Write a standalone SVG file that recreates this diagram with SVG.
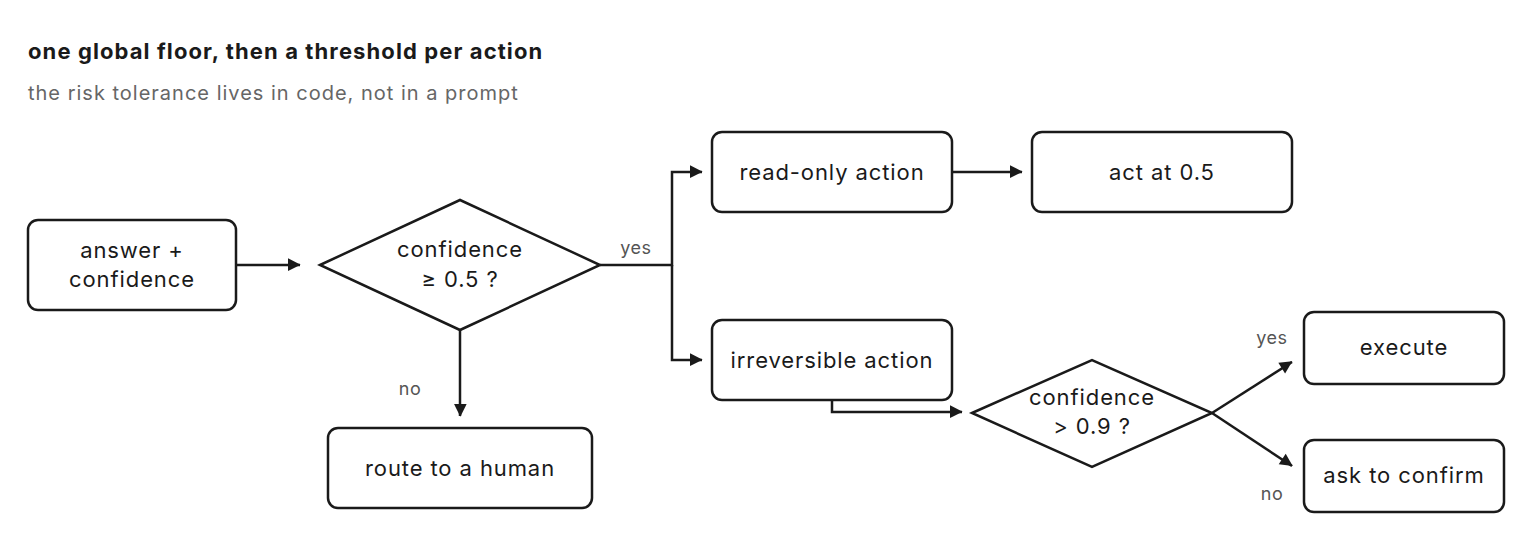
<svg xmlns="http://www.w3.org/2000/svg" width="1520" height="560" viewBox="0 0 1520 560">
<style>
.n{fill:#fff;stroke:#1a1a1a;stroke-width:2.5}
.t{font-family:Inter,"Liberation Sans",sans-serif;font-size:22px;letter-spacing:0.9px;fill:#1a1a1a;text-anchor:middle}
.l{font-family:Inter,"Liberation Sans",sans-serif;font-size:18px;letter-spacing:0.5px;fill:#555;text-anchor:middle}
.c{fill:none;stroke:#1a1a1a;stroke-width:2.5}
</style>
<defs><marker id="a" viewBox="0 0 10 10" refX="9" refY="5" markerWidth="7" markerHeight="7" markerUnits="userSpaceOnUse" orient="auto" style="overflow:visible"><path d="M0,0L10,5L0,10z" fill="#1a1a1a" transform="scale(1.8) translate(-4.5,-2.5)"/></marker></defs>
<rect width="1520" height="560" fill="#fff"/>
<text x="28" y="59" font-family="Inter,'Liberation Sans',sans-serif" font-size="22" letter-spacing="1.1" font-weight="bold" fill="#1a1a1a">one global floor, then a threshold per action</text>
<text x="28" y="100" font-family="Inter,'Liberation Sans',sans-serif" font-size="20" letter-spacing="1" fill="#666">the risk tolerance lives in code, not in a prompt</text>
<g id="answer"><rect class="n" x="28" y="220" width="208" height="90" rx="10"/><text class="t" x="132" y="258">answer +</text><text class="t" x="132" y="287">confidence</text></g>
<g id="d1"><polygon class="n" points="320,265 460,200 600,265 460,330"/><text class="t" x="460" y="257">confidence</text><text class="t" x="460" y="287">≥ 0.5 ?</text></g>
<g id="readonly"><rect class="n" x="712" y="132" width="240" height="80" rx="10"/><text class="t" x="832" y="180">read-only action</text></g>
<g id="act"><rect class="n" x="1032" y="132" width="260" height="80" rx="10"/><text class="t" x="1162" y="180">act at 0.5</text></g>
<g id="irrev"><rect class="n" x="712" y="320" width="240" height="80" rx="10"/><text class="t" x="832" y="368">irreversible action</text></g>
<g id="human"><rect class="n" x="328" y="428" width="264" height="80" rx="10"/><text class="t" x="460" y="476">route to a human</text></g>
<g id="d2"><polygon class="n" points="972,413 1092,360 1212,413 1092,467"/><text class="t" x="1092" y="405">confidence</text><text class="t" x="1092" y="434">&gt; 0.9 ?</text></g>
<g id="execute"><rect class="n" x="1304" y="312" width="200" height="72" rx="10"/><text class="t" x="1404" y="355">execute</text></g>
<g id="ask"><rect class="n" x="1304" y="440" width="200" height="72" rx="10"/><text class="t" x="1404" y="483">ask to confirm</text></g>
<g id="connectors">
<path class="c" d="M236,265H300" marker-end="url(#a)"/>
<path class="c" d="M600,265H672V172H702" marker-end="url(#a)"/>
<path class="c" d="M672,265V360H702" marker-end="url(#a)"/>
<path class="c" d="M952,172H1022" marker-end="url(#a)"/>
<path class="c" d="M460,330V416" marker-end="url(#a)"/>
<path class="c" d="M832,400V412H962" marker-end="url(#a)"/>
<path class="c" d="M1212,413L1292,362" marker-end="url(#a)"/>
<path class="c" d="M1212,413L1292,466" marker-end="url(#a)"/>
<text class="l" x="636" y="254">yes</text>
<text class="l" x="410" y="395">no</text>
<text class="l" x="1272" y="344">yes</text>
<text class="l" x="1272" y="500">no</text>
</g>
</svg>
